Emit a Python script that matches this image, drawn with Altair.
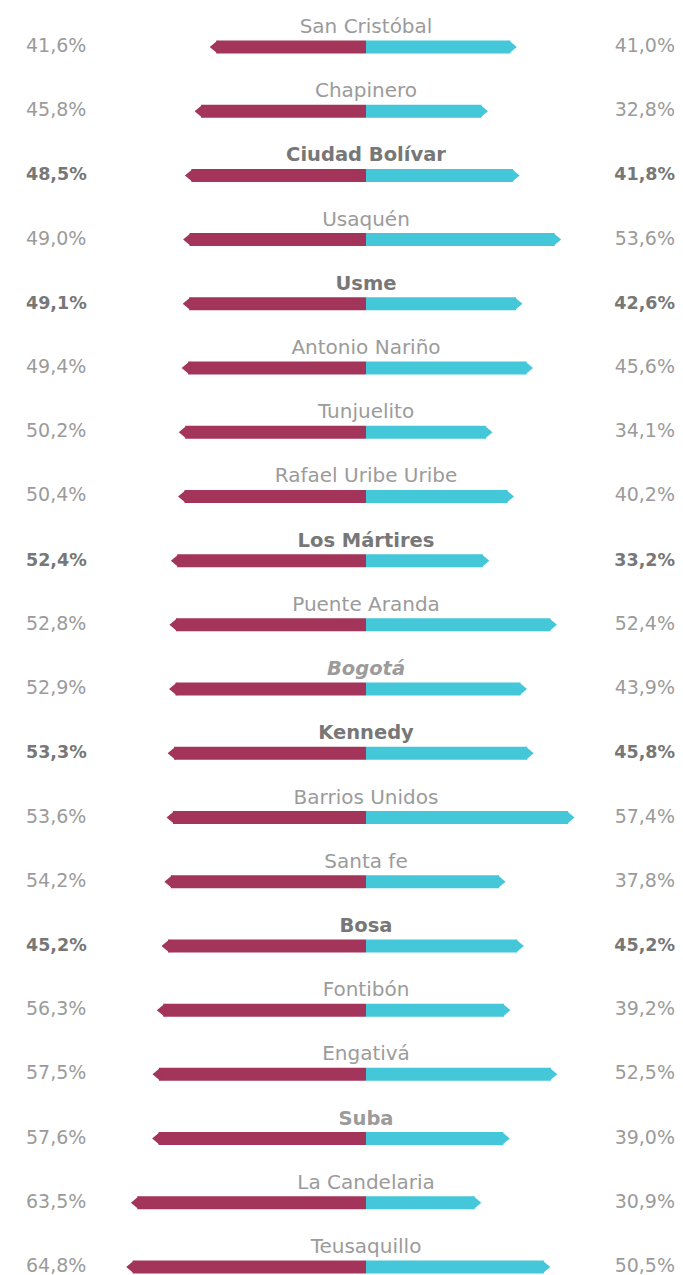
import altair as alt
import pandas as pd

districts = ["San Cristóbal", "Chapinero", "Ciudad Bolívar", "Usaquén", "Usme",
             "Antonio Nariño", "Tunjuelito", "Rafael Uribe Uribe", "Los Mártires",
             "Puente Aranda", "Bogotá", "Kennedy", "Barrios Unidos", "Santa fe",
             "Bosa", "Fontibón", "Engativá", "Suba", "La Candelaria", "Teusaquillo"]
left_share = [41.6, 45.8, 48.5, 49.0, 49.1, 49.4, 50.2, 50.4, 52.4, 52.8,
              52.9, 53.3, 53.6, 54.2, 55.0, 56.3, 57.5, 57.6, 63.5, 64.8]
right_share = [41.0, 32.8, 41.8, 53.6, 42.6, 45.6, 34.1, 40.2, 33.2, 52.4,
               43.9, 45.8, 57.4, 37.8, 43.0, 39.2, 52.5, 39.0, 30.9, 50.5]
left_text = ["41,6%", "45,8%", "48,5%", "49,0%", "49,1%", "49,4%", "50,2%", "50,4%",
             "52,4%", "52,8%", "52,9%", "53,3%", "53,6%", "54,2%", "45,2%", "56,3%",
             "57,5%", "57,6%", "63,5%", "64,8%"]
right_text = ["41,0%", "32,8%", "41,8%", "53,6%", "42,6%", "45,6%", "34,1%", "40,2%",
              "33,2%", "52,4%", "43,9%", "45,8%", "57,4%", "37,8%", "45,2%", "39,2%",
              "52,5%", "39,0%", "30,9%", "50,5%"]
# n = normal, b = bold highlighted, s = bold label only, i = bold italic label
styles = ["n", "n", "b", "n", "b", "n", "n", "n", "b", "n",
          "i", "b", "n", "n", "b", "n", "n", "s", "n", "n"]

df = pd.DataFrame({
    "row": list(range(len(districts))),
    "name": districts,
    "left": left_share,
    "right": right_share,
    "ltxt": left_text,
    "rtxt": right_text,
    "style": styles,
})

W, H = 667, 1267
MAROON = "#A3355A"
CYAN = "#45C7DA"
GRAY = "#9b9b9b"
DARK = "#777777"
FONT = "DejaVu Sans"

xs = alt.Scale(domain=[-99.44, 0, 87.78], range=[0, 358, W], nice=False, zero=False)
ys = alt.Scale(domain=[-0.607, 19.125], range=[0, H], nice=False, zero=False)
Y = alt.Y("row:Q", scale=ys, axis=None)

base = alt.Chart(df)

left_bar = base.transform_calculate(neg="-datum.left", zero="0").mark_rule(
    color=MAROON, strokeWidth=13
).encode(x=alt.X("neg:Q", scale=xs, axis=None), x2="zero:Q", y=Y)

right_bar = base.transform_calculate(zero="0").mark_rule(
    color=CYAN, strokeWidth=13
).encode(x=alt.X("zero:Q", scale=xs, axis=None), x2="right:Q", y=Y)

left_tip = base.transform_calculate(neg="-datum.left").mark_point(
    shape="M0.2,-1 L-1,0 L0.2,1 Z", filled=True, size=169, opacity=1,
    color=MAROON, strokeWidth=0
).encode(x=alt.X("neg:Q", scale=xs, axis=None), y=Y)

right_tip = base.mark_point(
    shape="M-0.2,-1 L1,0 L-0.2,1 Z", filled=True, size=169, opacity=1,
    color=CYAN, strokeWidth=0
).encode(x=alt.X("right:Q", scale=xs, axis=None), y=Y)


def label_layer(flt, size, weight, color, style="normal"):
    return base.transform_filter(flt).mark_text(
        font=FONT, fontSize=size, fontWeight=weight, fontStyle=style, color=color,
        align="center", baseline="alphabetic", dy=-14
    ).encode(x=alt.value(358), y=Y, text="name:N")


def value_layer(flt, field, size, weight, color, side):
    if side == "left":
        return base.transform_filter(flt).mark_text(
            font=FONT, fontSize=size, fontWeight=weight, color=color,
            align="left", baseline="alphabetic", dy=5
        ).encode(x=alt.value(18), y=Y, text=f"{field}:N")
    return base.transform_filter(flt).mark_text(
        font=FONT, fontSize=size, fontWeight=weight, color=color,
        align="right", baseline="alphabetic", dy=5
    ).encode(x=alt.value(W), y=Y, text=f"{field}:N")


layers = [
    left_bar, right_bar, left_tip, right_tip,
    label_layer("datum.style == 'n'", 20, "normal", GRAY),
    label_layer("datum.style == 'b'", 19.5, "bold", DARK),
    label_layer("datum.style == 's'", 19.5, "bold", GRAY),
    label_layer("datum.style == 'i'", 19.5, "bold", GRAY, "italic"),
    value_layer("datum.style != 'b'", "ltxt", 19, "normal", GRAY, "left"),
    value_layer("datum.style != 'b'", "rtxt", 19, "normal", GRAY, "right"),
    value_layer("datum.style == 'b'", "ltxt", 17.5, "bold", DARK, "left"),
    value_layer("datum.style == 'b'", "rtxt", 17.5, "bold", DARK, "right"),
]

chart = alt.layer(*layers).properties(
    width=W, height=H, padding=0,
    autosize=alt.AutoSizeParams(type="none")
).configure_view(strokeWidth=0)

chart.save("out.html", embed_options={"renderer": "svg", "actions": False})
